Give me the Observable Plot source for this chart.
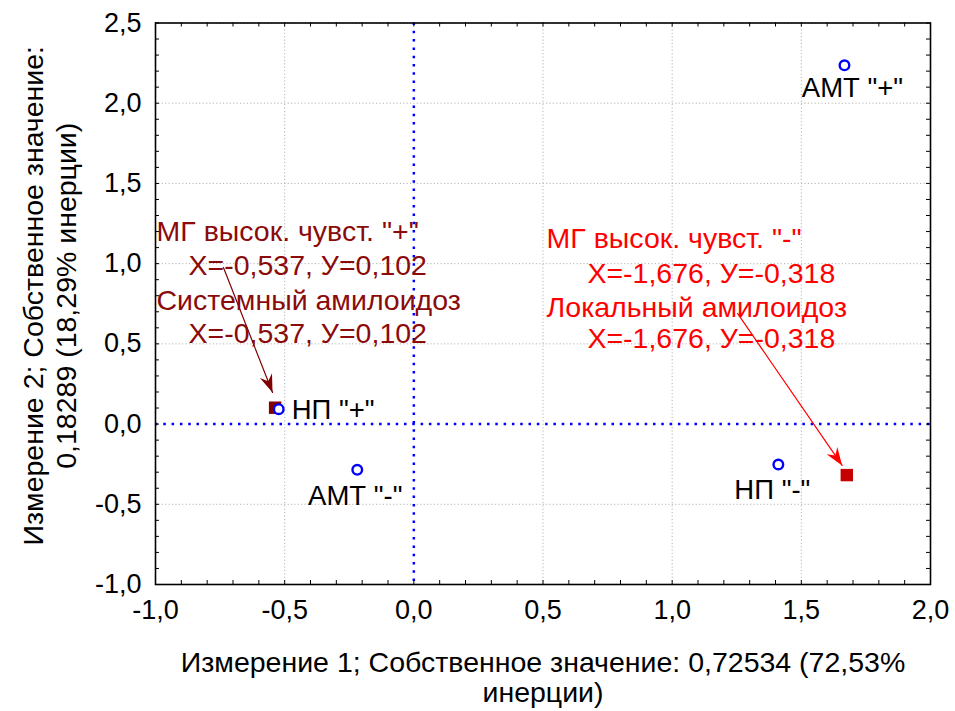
<!DOCTYPE html>
<html><head><meta charset="utf-8">
<script src="https://cdn.jsdelivr.net/npm/d3@7"></script>
<script src="https://cdn.jsdelivr.net/npm/@observablehq/plot@0.6"></script>
<style>
body{margin:0;background:#fff}
#chart svg{font-family:"Liberation Sans",Arial,sans-serif;background:#fff}
</style>
</head><body><div id="chart"></div>
<script>
// Column points (blue circles)
const colLabels = ['АМТ "+"', 'НП "+"', 'АМТ "-"', 'НП "-"'];
const colX = [1.667, -0.523, -0.219, 1.411];
const colY = [2.236, 0.093, -0.285, -0.252];
// Row points (squares)
const rowNames = ['МГ высок. чувст. "+" / Системный амилоидоз', 'МГ высок. чувст. "-" / Локальный амилоидоз'];
const rowX = [-0.537, 1.676];
const rowY = [0.102, -0.318];
// Annotation texts
const annoMaroon = ['МГ высок. чувст. "+"', 'X=-0,537, У=0,102', 'Системный амилоидоз', 'X=-0,537, У=0,102'];
const annoRed = ['МГ высок. чувст. "-"', 'X=-1,676, У=-0,318', 'Локальный амилоидоз', 'X=-1,676, У=-0,318'];
// Ticks
const xTicks = [-1, -0.5, 0, 0.5, 1, 1.5, 2];
const yTicks = [-1, -0.5, 0, 0.5, 1, 1.5, 2, 2.5];
const xTitle = "Измерение 1; Собственное значение: 0,72534 (72,53%\nинерции)";
const yTitle = "Измерение 2; Собственное значение:\n0,18289 (18,29% инерции)";

// ---- layout / styling ----
const W = 955, H = 711, mL = 155, mR = 25, mT = 22.5, mB = 127;
const pW = W - mL - mR, pH = H - mT - mB;
const fmt = d => d.toFixed(1).replace(".", ",");
const minorX = d3.range(-10, 21).map(i => i / 10);
const minorY = d3.range(-10, 26).map(i => i / 10);

const cols = colLabels.map((t, i) => ({t, x: colX[i], y: colY[i]}));
const rowColors = ["#800000", "#c40000"];
const rows = rowNames.map((t, i) => ({t, x: rowX[i], y: rowY[i], c: rowColors[i]}));

// label placement for the point labels (screen offsets)
const colLabelPos = [
  {dx: 8, dy: 23, anchor: "middle"},
  {dx: 13, dy: 1, anchor: "start"},
  {dx: -2, dy: 26, anchor: "middle"},
  {dx: -6, dy: 26, anchor: "middle"}
];
// annotation anchor positions (data coords)
const annoPos = {
  maroon: [[-0.996, 1.195], [-0.872, 0.989], [-0.996, 0.771], [-0.872, 0.565]],
  red: [[0.514, 1.157], [0.672, 0.939], [0.514, 0.727], [0.672, 0.534]]
};
const annos = [
  ...annoMaroon.map((t, i) => ({t, x: annoPos.maroon[i][0], y: annoPos.maroon[i][1], c: "#8b0a0a"})),
  ...annoRed.map((t, i) => ({t, x: annoPos.red[i][0], y: annoPos.red[i][1], c: "#ff0000"}))
];
const arrows = [
  {x1: -0.737, y1: 0.976, x2: rowX[0] - 0.01, y2: rowY[0] + 0.095, c: "#800000"},
  {x1: 1.253, y1: 0.690, x2: rowX[1] - 0.018, y2: rowY[1] + 0.06, c: "#ff0000"}
];
arrows.forEach(a => {
  const dx = (a.x2 - a.x1) * pW / 3, dy = -(a.y2 - a.y1) * pH / 3.5;
  a.rot = Math.atan2(dx, -dy) * 180 / Math.PI;
});
const headSymbol = {
  draw(ctx) {
    ctx.moveTo(0, 0);
    ctx.lineTo(-6.5, 18);
    ctx.lineTo(0, 12);
    ctx.lineTo(6.5, 18);
    ctx.closePath();
  }
};

const plot = Plot.plot({
  width: W, height: H,
  marginLeft: mL, marginRight: mR, marginTop: mT, marginBottom: mB,
  x: {domain: [-1, 2]},
  y: {domain: [-1, 2.5]},
  color: {type: "identity"},
  marks: [
    Plot.gridX(xTicks.filter(d => d !== 0), {stroke: "#b4b4b4", strokeOpacity: 1, strokeDasharray: "1.2,2.2"}),
    Plot.gridY(yTicks.filter(d => d !== 0), {stroke: "#b4b4b4", strokeOpacity: 1, strokeDasharray: "1.2,2.2"}),
    Plot.ruleX([0], {stroke: "#0000ff", strokeWidth: 2.5, strokeDasharray: "2.5,5.8"}),
    Plot.ruleY([0], {stroke: "#0000ff", strokeWidth: 2.5, strokeDasharray: "2.5,5.8"}),
    Plot.tickX(minorX, {x: d => d, insetTop: pH - 4, stroke: "black"}),
    Plot.tickX(minorX, {x: d => d, insetBottom: pH - 4, stroke: "black"}),
    Plot.tickY(minorY, {y: d => d, insetRight: pW - 4, stroke: "black"}),
    Plot.tickY(minorY, {y: d => d, insetLeft: pW - 4, stroke: "black"}),
    Plot.frame({stroke: "black", strokeWidth: 1.6}),
    Plot.axisX(xTicks, {tickSize: 0, tickPadding: 15, tickFormat: fmt, fontSize: 27, label: null, fill: "black"}),
    Plot.axisY(yTicks, {tickSize: 0, tickPadding: 14, tickFormat: fmt, fontSize: 27, label: null, fill: "black"}),
    Plot.text([xTitle], {frameAnchor: "bottom", dy: 117, fontSize: 28.5, lineHeight: 1.02, fill: "black"}),
    Plot.text([yTitle], {frameAnchor: "left", textAnchor: "middle", dx: -107, dy: -8, rotate: -90, fontSize: 28.5, lineHeight: 1.16, fill: "black"}),
    Plot.arrow(arrows, {x1: "x1", y1: "y1", x2: "x2", y2: "y2", stroke: "c", strokeWidth: 1.2, headLength: 0}),
    Plot.dot(arrows, {x: "x2", y: "y2", symbol: headSymbol, rotate: "rot", fill: "c", stroke: "none", r: 5}),
    Plot.dot(rows, {x: "x", y: "y", symbol: "square", r: 7, fill: "c"}),
    Plot.dot(cols, {x: "x", y: "y", r: 4.8, stroke: "#0000ff", strokeWidth: 2.4, fill: "white"}),
    ...cols.map((d, i) => Plot.text([d], {x: "x", y: "y", text: "t", dx: colLabelPos[i].dx, dy: colLabelPos[i].dy, textAnchor: colLabelPos[i].anchor, fontSize: 27.5, fill: "black"})),
    Plot.text(annos, {x: "x", y: "y", text: "t", textAnchor: "start", fill: "c", fontSize: 28.5})
  ]
});
document.getElementById("chart").appendChild(plot);
</script>
</body></html>
